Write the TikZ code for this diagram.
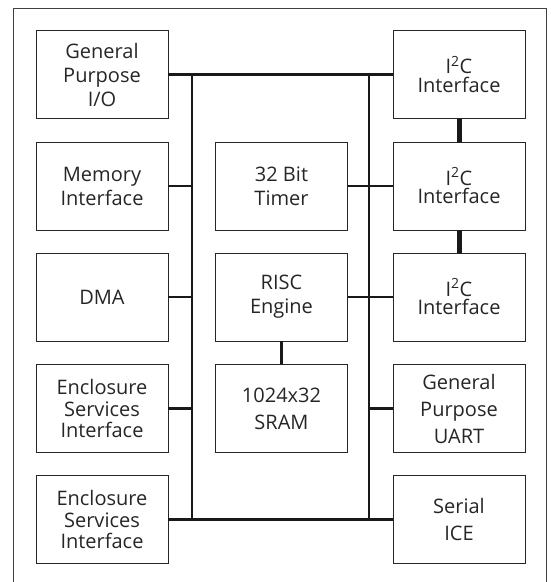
\documentclass[tikz,border=0pt]{standalone}
\usepackage{fontspec}
\setmainfont{Open Sans}
\begin{document}
\begin{tikzpicture}[x=1pt,y=-1pt,
  blk/.style={draw=black!85,line width=0.9pt,minimum width=132pt,minimum height=88pt,
    inner sep=0pt,align=center,text=black!85,font=\fontsize{20}{24}\selectfont},
  tight/.style={font=\fontsize{20}{21.5}\selectfont},
  loose/.style={font=\fontsize{20}{27}\selectfont},
  bus/.style={draw=black!90,line width=2.6pt},
  link/.style={draw=black!90,line width=5pt},
  mlink/.style={draw=black!90,line width=3.6pt}]
\useasboundingbox (0,0) rectangle (551,582);
\draw[black!75,line width=0.9pt] (13,582) -- (13,8) -- (546,8) -- (546,582);
% left column
\node[blk] (gpio) at (102,74.5) {General\\Purpose\\I/O};
\node[blk] (mem) at (102,186) {Memory\\Interface};
\node[blk] (dma) at (102,297) {DMA};
\node[blk,tight] (enc1) at (102,408.5) {Enclosure\\Services\\Interface};
\node[blk,tight] (enc2) at (102,519.5) {Enclosure\\Services\\Interface};
% center column
\node[blk] (tmr) at (281.5,186) {32 Bit\\Timer};
\node[blk] (risc) at (281.5,297) {RISC\\Engine};
\node[blk,loose] (sram) at (281.5,408.5) {1024x32\\SRAM};
% right column
\node[blk,tight] (i2c1) at (459,74.5) {I\textsuperscript{2}C\\[-3pt]Interface};
\node[blk,tight] (i2c2) at (459,186) {I\textsuperscript{2}C\\[-3pt]Interface};
\node[blk,tight] (i2c3) at (459,297) {I\textsuperscript{2}C\\[-3pt]Interface};
\node[blk,loose] (uart) at (459,408.5) {General\\Purpose\\UART};
\node[blk,loose] (ice) at (459,519.5) {Serial\\ICE};
% bus coordinates
\coordinate (lt) at (192,74.5);
\coordinate (lb) at (192,519.5);
\coordinate (rt) at (369,74.5);
\coordinate (rb) at (369,519.5);
\draw[bus] (gpio.east) -- (i2c1.west);
\draw[bus] (enc2.east) -- (ice.west);
\draw[bus] (lt) -- (lb);
\draw[bus] (rt) -- (rb);
\draw[bus] (mem.east) -- (mem.east -| lt);
\draw[bus] (dma.east) -- (dma.east -| lt);
\draw[bus] (enc1.east) -- (enc1.east -| lt);
\draw[bus] (tmr.east) -- (i2c2.west);
\draw[bus] (risc.east) -- (i2c3.west);
\draw[bus] (uart.west) -- (uart.west -| rt);
\draw[mlink] (risc.south) -- (sram.north);
\draw[link] (i2c1.south) -- (i2c2.north);
\draw[link] (i2c2.south) -- (i2c3.north);
\end{tikzpicture}
\end{document}
